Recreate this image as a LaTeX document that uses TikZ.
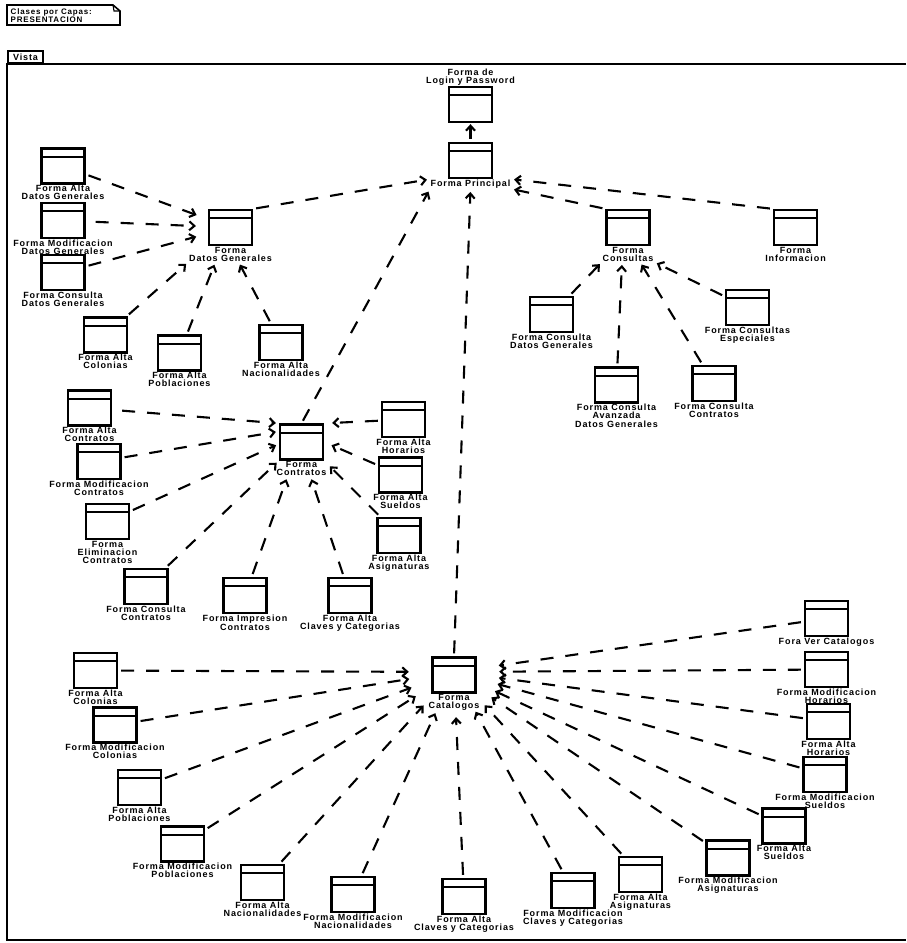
\documentclass[tikz,border=0pt]{standalone}
\usepackage{fontspec}
\newfontfamily\umlfont{Liberation Sans}[LetterSpace=10]
\usetikzlibrary{arrows.meta,positioning}

% one form class: box with header bar, name below
\newcommand{\forma}[3]{%
  \node[formbox] (#1) at (#2) {};
  \node[formlbl,below=0pt of #1] (#1-t) {#3};
}

\begin{document}
\begin{tikzpicture}[x=1pt,y=-1pt,
  formbox/.style={draw,line width=2.3pt,minimum width=43pt,minimum height=35pt,inner sep=0pt,
    path picture={\draw[line width=2pt] ([yshift=-8pt]path picture bounding box.north west)
      -- ([yshift=-8pt]path picture bounding box.north east);}},
  formlbl/.style={font=\umlfont\bfseries\fontsize{9}{8.1}\selectfont,align=center,inner sep=0.5pt},
  dep/.style={line width=2.1pt,dash pattern=on 13pt off 12pt,
    -{Straight Barb[length=5pt,width=9pt]},shorten <=3pt,shorten >=3pt},
  hub/.style={circle,minimum size=90pt,inner sep=0pt}]
  \useasboundingbox (0,0) rectangle (906,943);

  % note
  \draw[line width=1.6pt] (7,5) -- (113,5) -- (120,11) -- (120,25) -- (7,25) -- cycle;
  \draw[line width=1.1pt] (113,5) -- (114,11) -- (120,11);
  \node[formlbl,align=left,anchor=north west,font=\umlfont\bfseries\fontsize{8}{6.6}\selectfont]
    (nota) at (10,8) {Clases por Capas:\\PRESENTACION};

  % package frame
  \node[draw,line width=2pt,anchor=south west,minimum width=35pt,minimum height=12pt,
    inner sep=1pt,font=\umlfont\bfseries\fontsize{9}{8}\selectfont] (vista) at (7,64) {Vista};
  \draw[line width=2pt] (906,64) -- (vista.south west) -- (7,940) -- (906,940);

  % login and main form
  \node[formbox] (login) at (470.5,104.5) {};
  \node[formlbl,above=0pt of login] (login-t) {Forma de\\Login y Password};
  \forma{pr}{470.5,160.5}{Forma Principal}

  % datos generales
  \forma{dg}{230.5,227.5}{Forma\\Datos Generales}
  \forma{adg}{63,166}{Forma Alta\\Datos Generales}
  \forma{mdg}{63,220.5}{Forma Modificacion\\Datos Generales}
  \forma{cdg}{63,272.5}{Forma Consulta\\Datos Generales}
  \forma{ac1}{105.5,335}{Forma Alta\\Colonias}
  \forma{ap1}{179.5,353}{Forma Alta\\Poblaciones}
  \forma{an1}{281,342.5}{Forma Alta\\Nacionalidades}

  % consultas
  \forma{cons}{628,227.5}{Forma\\Consultas}
  \forma{info}{795.5,227.5}{Forma\\Informacion}
  \forma{cdg2}{551.5,314.5}{Forma Consulta\\Datos Generales}
  \forma{cavdg}{616.5,385}{Forma Consulta\\Avanzada\\Datos Generales}
  \forma{cc}{714,383.5}{Forma Consulta\\Contratos}
  \forma{ce}{747.5,307.5}{Forma Consultas\\Especiales}

  % contratos
  \forma{ct}{301.5,442}{Forma\\Contratos}
  \forma{aco}{89.5,408}{Forma Alta\\Contratos}
  \forma{mco}{99,461.5}{Forma Modificacion\\Contratos}
  \forma{eco}{107.5,521.5}{Forma\\Eliminacion\\Contratos}
  \forma{cco}{146,586.5}{Forma Consulta\\Contratos}
  \forma{ico}{245,595.5}{Forma Impresion\\Contratos}
  \forma{acc1}{350,595.5}{Forma Alta\\Claves y Categorias}
  \forma{ah1}{403.5,419.5}{Forma Alta\\Horarios}
  \forma{as1}{400.5,475}{Forma Alta\\Sueldos}
  \forma{aas1}{399,535.5}{Forma Alta\\Asignaturas}

  % catalogos
  \forma{cat}{454,675}{Forma\\Catalogos}
  \node[hub] (cath) at (454,672) {};
  \forma{ac2}{95.5,670.5}{Forma Alta\\Colonias}
  \forma{mc}{115,725}{Forma Modificacion\\Colonias}
  \forma{ap2}{139.5,787.5}{Forma Alta\\Poblaciones}
  \forma{mp}{182.5,844}{Forma Modificacion\\Poblaciones}
  \forma{an2}{262.5,882.5}{Forma Alta\\Nacionalidades}
  \forma{mn}{353,894.5}{Forma Modificacion\\Nacionalidades}
  \forma{acc2}{464,896.5}{Forma Alta\\Claves y Categorias}
  \forma{mcc}{573,890.5}{Forma Modificacion\\Claves y Categorias}
  \forma{aas2}{640.5,874.5}{Forma Alta\\Asignaturas}
  \forma{mas}{728,858}{Forma Modificacion\\Asignaturas}
  \forma{as2}{784,826}{Forma Alta\\Sueldos}
  \forma{ms}{825,774.5}{Forma Modificacion\\Sueldos}
  \forma{ah2}{828.5,721.5}{Forma Alta\\Horarios}
  \forma{mh}{826.5,669.5}{Forma Modificacion\\Horarios}
  \forma{vc}{826.5,618.5}{Fora Ver Catalogos}

  % dependencies on the main form
  \draw[dep,shorten >=1pt] (pr) -- (login);
  \draw[dep] (dg.north east) -- (pr-t.north west);
  \draw[dep] (ct.north) -- (pr-t.south west);
  \draw[dep] (cat.north) -- (pr-t.south);
  \draw[dep] (cons.north west) -- (pr-t.south east);
  \draw[dep] (info.north west) -- (pr-t.north east);

  % into datos generales
  \draw[dep,shorten >=12pt] (adg) -- (dg);
  \draw[dep,shorten >=12pt,shorten <=10pt] (mdg) -- (dg);
  \draw[dep,shorten >=12pt] (cdg) -- (dg);
  \draw[dep] (ac1) -- (dg-t.south west);
  \draw[dep] (ap1) -- ([xshift=-15pt]dg-t.south);
  \draw[dep] (an1) -- ([xshift=8pt]dg-t.south);

  % into consultas
  \draw[dep] (cdg2) -- (cons-t.south west);
  \draw[dep] (cavdg) -- ([xshift=-6pt]cons-t.south);
  \draw[dep] (cc) -- ([xshift=12pt]cons-t.south);
  \draw[dep] (ce) -- (cons-t.south east);

  % into contratos
  \draw[dep,shorten <=10pt] (aco) -- (ct.north west);
  \draw[dep] (mco) -- (ct.155);
  \draw[dep] (eco) -- (ct.185);
  \draw[dep] (cco) -- (ct.south west);
  \draw[dep] (ico) -- ([xshift=-14pt]ct-t.south);
  \draw[dep] (acc1) -- ([xshift=9pt]ct-t.south);
  \draw[dep,shorten >=8pt] (ah1) -- (ct.north east);
  \draw[dep,shorten >=8pt] (as1) -- (ct.east);
  \draw[dep,shorten >=8pt] (aas1) -- (ct.south east);

  % into catalogos
  \draw[dep,shorten >=0pt] (ac2) -- (cath);
  \draw[dep,shorten >=0pt] (mc) -- (cath);
  \draw[dep,shorten >=0pt] (ap2) -- (cath);
  \draw[dep,shorten >=0pt] (mp) -- (cath);
  \draw[dep,shorten >=0pt] (an2) -- (cath);
  \draw[dep,shorten >=0pt] (mn) -- (cath);
  \draw[dep,shorten >=0pt] (acc2) -- (cath);
  \draw[dep,shorten >=0pt] (mcc) -- (cath);
  \draw[dep,shorten >=0pt] (aas2) -- (cath);
  \draw[dep,shorten >=0pt] (mas) -- (cath);
  \draw[dep,shorten >=0pt] (as2) -- (cath);
  \draw[dep,shorten >=0pt] (ms) -- (cath);
  \draw[dep,shorten >=0pt] (ah2) -- (cath);
  \draw[dep,shorten >=0pt] (mh) -- (cath);
  \draw[dep,shorten >=0pt] (vc) -- (cath);
\end{tikzpicture}
\end{document}
